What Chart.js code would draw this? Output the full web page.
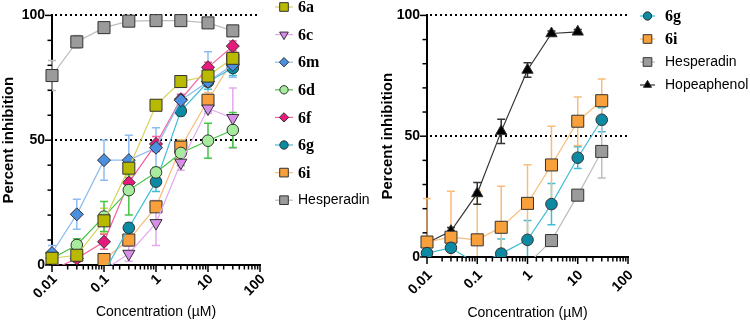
<!DOCTYPE html>
<html>
<head>
<meta charset="utf-8">
<script src="https://cdn.jsdelivr.net/npm/chart.js@4.4.1/dist/chart.umd.min.js"></script>
<style>
  html, body { margin: 0; padding: 0; background: #fff; }
  #wrap { position: relative; width: 750px; height: 324px; }
  .box { position: absolute; top: 0; width: 375px; height: 324px; }
</style>
</head>
<body>
<div id="wrap">
  <div class="box" style="left:0"><canvas id="leftChart"></canvas></div>
  <div class="box" style="left:375px"><canvas id="rightChart"></canvas></div>
</div>
<script>
const concentrations = [0.01, 0.03, 0.1, 0.3, 1, 3, 10, 30];
const xTickLabels = ['0.01', '0.1', '1', '10', '100'];
const yTickLabels = [0, 50, 100];
const refLines = [50, 100];

// left panel (mean, sd) - values below 0 fall under the axis
const inh6a = [2.7, 3.9, 17.7, 38.8, 64.0, 73.5, 75.7, 82.8];
const sd6a  = [1, 1.5, 5, 3, 2, 1.5, 3, 4];
const inh6c = [1.7, -5, -2, 4.5, 16.8, 41.0, 62.7, 58.9];
const sd6c  = [3, 0, 0, 3, 9, 3, 2, 12];
const inh6m = [4.8, 20.3, 42.0, 42.0, 47.0, 66.0, 73.4, 80.2];
const sd6m  = [3, 6, 8, 10, 8, 2, 12, 5];
const inh6d = [2.6, 8.0, 19.4, 30.0, 37.1, 44.9, 49.8, 54.1];
const sd6d  = [1, 2.5, 6, 10, 2, 5, 7, 7];
const inh6f = [-2, 2.6, 9.3, 33.0, 48.5, 66.4, 79.2, 87.7];
const sd6f  = [0, 1.5, 3, 2, 3, 2, 2, 2];
const inh6g = [-20, -20, -3, 14.9, 33.4, 61.7, 73.4, 78.9];
const sd6g  = [0, 0, 0, 2, 4, 2, 3, 3];
const inh6i = [-20, -20, 2.2, 10.0, 23.3, 47.2, 66.0, 82.1];
const sd6i  = [0, 0, 1.5, 2, 2, 3, 3, 3];
const inhHespL = [75.9, 89.4, 95.1, 97.7, 97.9, 97.9, 97.0, 93.8];
const sdHespL  = [6, 2.5, 1.5, 1.5, 1.2, 1.5, 1.8, 1.5];

// right panel
const inh6gR = [1.6, 3.8, -3, 1.4, 7.1, 21.9, 41.1, 56.8];
const sd6gR  = [1, 1.5, 0, 6, 8, 8.5, 4.5, 5];
const inh6iR = [6.2, 8.2, 7.1, 12.3, 22.2, 38.1, 56.2, 64.7];
const sd6iR  = [18, 19, 20, 17, 16, 16, 10, 9];
const inhHespR = [-20, -20, -20, -20, -3, 6.8, 25.6, 43.7];
const sdHespR  = [0, 0, 0, 0, 0, 2, 1, 11];
const inhHope  = [5.8, 10.7, 26.3, 52.0, 77.4, 92.5, 93.2, null];
const sdHope   = [1, 1.5, 4.5, 5, 3, 1, 1, 0];

function series(label, vals, errs, fill, line, style, radius, rot) {
  return {
    label: label,
    data: concentrations.map((c, i) => ({ x: c, y: vals[i] })),
    errors: errs,
    borderColor: line,
    backgroundColor: fill,
    pointBackgroundColor: fill,
    pointBorderColor: '#333',
    pointBorderWidth: 1,
    pointStyle: style,
    pointRadius: radius,
    pointHoverRadius: radius,
    pointRotation: rot || 0,
    borderWidth: 1.2,
    tension: 0,
    clip: { left: 8, top: 10, right: 8, bottom: 0 }
  };
}

const decor = {
  id: 'decor',
  beforeDatasetsDraw(chart) {
    const { ctx, chartArea: a, scales: { x, y } } = chart;
    ctx.save();
    ctx.strokeStyle = '#000';
    ctx.lineWidth = 2;
    ctx.setLineDash([2, 3]);
    refLines.forEach(v => {
      const py = Math.round(y.getPixelForValue(v));
      ctx.beginPath(); ctx.moveTo(a.left + 3, py); ctx.lineTo(a.right, py); ctx.stroke();
    });
    ctx.setLineDash([]);
    // error bars, clipped at the x axis
    ctx.beginPath();
    ctx.rect(a.left - 8, a.top - 10, a.right - a.left + 16, a.bottom - a.top + 9);
    ctx.clip();
    chart.data.datasets.forEach(ds => {
      ctx.strokeStyle = ds.borderColor;
      ctx.lineWidth = 1.5;
      ds.data.forEach((p, i) => {
        const e = ds.errors[i];
        if (p.y == null || !e) return;
        const px = x.getPixelForValue(p.x);
        const t = y.getPixelForValue(p.y + e), b = y.getPixelForValue(p.y - e);
        ctx.beginPath();
        ctx.moveTo(px, t); ctx.lineTo(px, b);
        ctx.moveTo(px - 4, t); ctx.lineTo(px + 4, t);
        ctx.moveTo(px - 4, b); ctx.lineTo(px + 4, b);
        ctx.stroke();
      });
    });
    ctx.restore();
  },
  afterDraw(chart, args, opts) {
    const { ctx, chartArea: a, scales: { x, y } } = chart;
    ctx.save();
    ctx.strokeStyle = '#000';
    ctx.lineWidth = 1.5;
    // x tick marks, decades longer
    x.ticks.forEach(t => {
      const e = Math.log10(t.value);
      const major = Math.abs(e - Math.round(e)) < 1e-9;
      const px = x.getPixelForValue(t.value);
      ctx.beginPath(); ctx.moveTo(px, a.bottom); ctx.lineTo(px, a.bottom + (major ? 7 : 4.5)); ctx.stroke();
    });
    y.ticks.forEach(t => {
      const py = y.getPixelForValue(t.value);
      const major = yTickLabels.includes(t.value);
      ctx.beginPath(); ctx.moveTo(a.left - (major ? 7 : 4.5), py); ctx.lineTo(a.left, py); ctx.stroke();
    });
    // legend
    chart.data.datasets.forEach((ds, i) => {
      const cy = opts.y0 + i * opts.step;
      ctx.strokeStyle = ds.borderColor;
      ctx.lineWidth = 1.2;
      ctx.beginPath(); ctx.moveTo(opts.x0, cy); ctx.lineTo(opts.x1, cy); ctx.stroke();
      ctx.fillStyle = ds.pointBackgroundColor;
      ctx.strokeStyle = '#333';
      ctx.lineWidth = 1;
      Chart.helpers.drawPoint(ctx, { pointStyle: ds.pointStyle, radius: ds.pointRadius * 0.72, rotation: ds.pointRotation, borderWidth: 1 }, (opts.x0 + opts.x1) / 2, cy);
      const compound = /^6/.test(ds.label);
      ctx.font = compound ? 'bold 16px "Liberation Serif"' : '14px "Liberation Sans"';
      ctx.fillStyle = '#000';
      ctx.textBaseline = 'middle';
      ctx.fillText(ds.label, opts.tx, cy + (compound ? 1 : 0));
    });
    ctx.restore();
  }
};

function makeChart(id, datasets, lay) {
  return new Chart(document.getElementById(id), {
    type: 'line',
    data: { datasets: datasets },
    plugins: [decor],
    options: {
      responsive: true,
      maintainAspectRatio: false,
      animation: false,
      events: [],
      layout: { padding: { left: 0, right: lay.padRight, top: lay.padTop, bottom: 0 } },
      plugins: {
        legend: { display: false },
        tooltip: { enabled: false },
        decor: lay.legend
      },
      scales: {
        x: {
          type: 'logarithmic',
          min: 0.01,
          max: 100,
          afterFit: s => { s.height = lay.xHeight; },
          grid: { display: false, drawTicks: false },
          border: { color: '#000', width: 2 },
          ticks: {
            autoSkip: false,
            minRotation: 45,
            maxRotation: 45,
            padding: lay.xTickPad,
            labelOffset: lay.xLabelShift,
            color: '#000',
            font: { family: '"Liberation Sans"', size: 14, weight: 'bold' },
            callback: v => {
              const e = Math.log10(v), r = Math.round(e);
              return Math.abs(e - r) < 1e-9 ? xTickLabels[r + 2] : '';
            }
          },
          title: {
            display: true,
            text: 'Concentration (µM)',
            color: '#000',
            font: { family: '"Liberation Sans"', size: 14 },
            padding: { top: 0, bottom: lay.xTitlePad }
          }
        },
        y: {
          min: 0,
          max: 100,
          afterFit: s => { s.width = 52; },
          grid: { display: false, drawTicks: false },
          border: { color: '#000', width: 2 },
          ticks: {
            stepSize: 10,
            autoSkip: false,
            padding: 7,
            color: '#000',
            font: { family: '"Liberation Sans"', size: 14, weight: 'bold' },
            callback: v => yTickLabels.includes(v) ? v : ''
          },
          title: {
            display: true,
            text: 'Percent inhibition',
            color: '#000',
            font: { family: '"Liberation Sans"', size: 15, weight: 'bold' },
            padding: { top: lay.yTitlePad, bottom: 0 }
          }
        }
      }
    }
  });
}

makeChart('leftChart', [
  series('6a', inh6a, sd6a, '#b9b900', '#d4d45a', 'rect', 8.5),
  series('6c', inh6c, sd6c, '#d88ee8', '#e3a8f0', 'triangle', 7, 180),
  series('6m', inh6m, sd6m, '#4a8fe0', '#8cbcf0', 'rectRot', 6.5),
  series('6d', inh6d, sd6d, '#a6eb9e', '#45c445', 'circle', 5.8),
  series('6f', inh6f, sd6f, '#e8197c', '#f5609e', 'rectRot', 6.5),
  series('6g', inh6g, sd6g, '#0c8aa3', '#42bcd6', 'circle', 5.8),
  series('6i', inh6i, sd6i, '#f8a03c', '#f9bc7a', 'rect', 8.5),
  series('Hesperadin', inhHespL, sdHespL, '#9b9b9b', '#bdbdbd', 'rect', 8.5)
], {
  padRight: 115, padTop: 7, xHeight: 59, xTickPad: 6, xLabelShift: 3, xTitlePad: 3, yTitlePad: 0,
  legend: { x0: 275, x1: 293, tx: 298, y0: 7, step: 27.6 }
});

makeChart('rightChart', [
  series('6g', inh6gR, sd6gR, '#0c8aa3', '#42bcd6', 'circle', 5.8),
  series('6i', inh6iR, sd6iR, '#f8a03c', '#f9bc7a', 'rect', 8.5),
  series('Hesperadin', inhHespR, sdHespR, '#9b9b9b', '#bdbdbd', 'rect', 8.5),
  series('Hopeaphenol', inhHope, sdHope, '#000000', '#333333', 'triangle', 6.5)
], {
  padRight: 122, padTop: 13, xHeight: 67, xTickPad: 10, xLabelShift: 3, xTitlePad: 2, yTitlePad: 4,
  legend: { x0: 265, x1: 280, tx: 290, y0: 16, step: 23 }
});
</script>
</body>
</html>
